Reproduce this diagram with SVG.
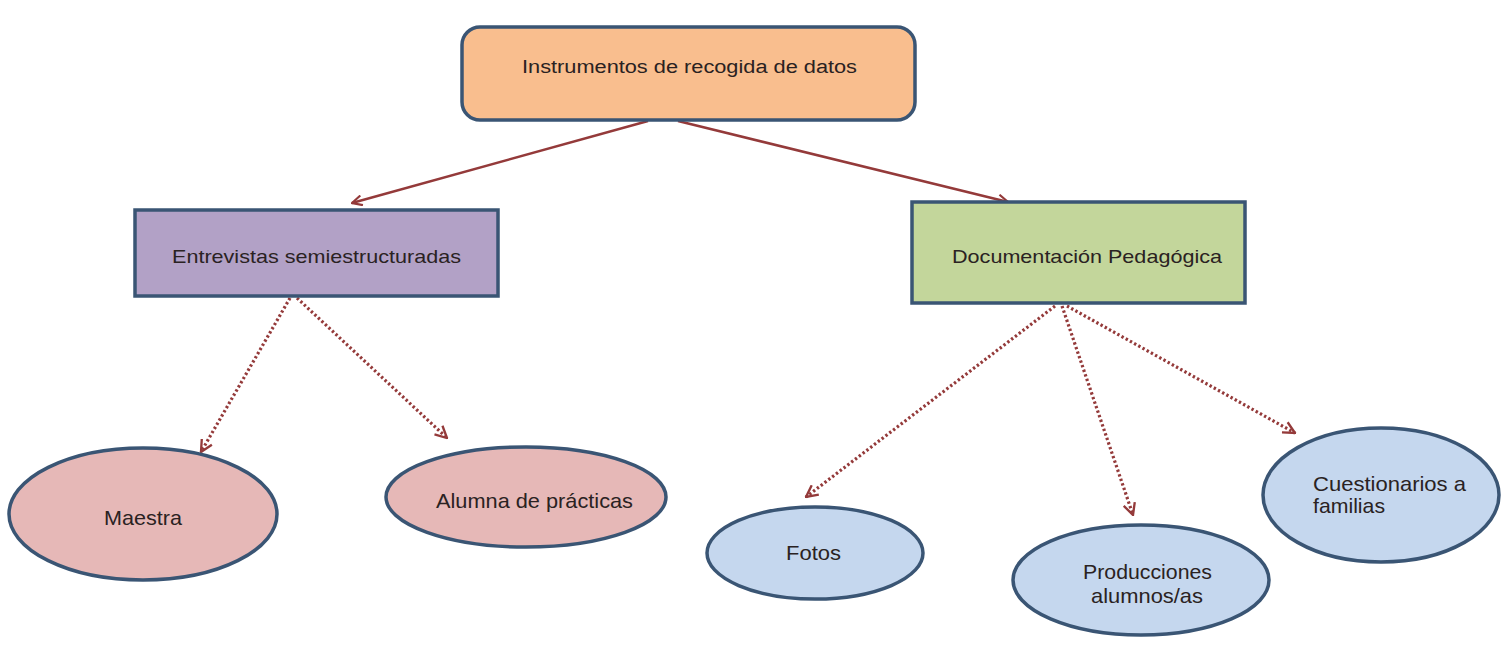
<svg xmlns="http://www.w3.org/2000/svg" width="1503" height="650" viewBox="0 0 1503 650">
<defs>
<style>
.node{stroke:#3A5574;stroke-width:3.5}
.t{font-family:"Liberation Sans",Arial,sans-serif;font-size:19px;fill:#2a2222}
.s{font-family:"Liberation Sans",Arial,sans-serif;font-size:21px;fill:#2a2222}
.solid{stroke:#943A3A;stroke-width:2.5;fill:none}
.dot{stroke:#943A3A;stroke-width:3.2;stroke-dasharray:2.4 2.4;fill:none}
</style>
<marker id="ah" viewBox="0 0 12 12" refX="11" refY="6" markerWidth="12" markerHeight="12" markerUnits="userSpaceOnUse" orient="auto">
<path d="M1,1 L11,6 L1,11" fill="none" stroke="#943A3A" stroke-width="2.2"/>
</marker>
<marker id="ah2" viewBox="0 0 12 12" refX="11" refY="6" markerWidth="14" markerHeight="14" markerUnits="userSpaceOnUse" orient="auto">
<path d="M1,1 L11,6 L1,11" fill="none" stroke="#943A3A" stroke-width="2"/>
</marker>
</defs>
<rect width="1503" height="650" fill="#ffffff"/>
<g id="connectors">
<line class="solid" x1="648" y1="121" x2="352" y2="203" marker-end="url(#ah)"/>
<line class="solid" x1="678" y1="121" x2="1008" y2="202" marker-end="url(#ah)"/>
<line class="dot" x1="290" y1="298" x2="201" y2="452" marker-end="url(#ah2)"/>
<line class="dot" x1="297" y1="298" x2="447" y2="438" marker-end="url(#ah2)"/>
<line class="dot" x1="1055" y1="306" x2="806" y2="497" marker-end="url(#ah2)"/>
<line class="dot" x1="1062" y1="306" x2="1133" y2="515" marker-end="url(#ah2)"/>
<line class="dot" x1="1067" y1="306" x2="1295" y2="433" marker-end="url(#ah2)"/>
</g>
<g id="instrumentos">
<rect class="node" x="462" y="27" width="453" height="93" rx="18" fill="#F9BE8E"/>
<text class="t" x="522" y="73" style="font-size:18px" textLength="335" lengthAdjust="spacingAndGlyphs">Instrumentos de recogida de datos</text>
</g>
<g id="entrevistas">
<rect class="node" x="135" y="210" width="363" height="86" fill="#B2A1C6" stroke="#2F4E68"/>
<text class="t" x="172" y="263" textLength="289" lengthAdjust="spacingAndGlyphs">Entrevistas semiestructuradas</text>
</g>
<g id="documentacion">
<rect class="node" x="912" y="202" width="333" height="101" fill="#C3D69B"/>
<text class="t" x="952" y="263" textLength="270" lengthAdjust="spacingAndGlyphs">Documentación Pedagógica</text>
</g>
<g id="maestra">
<ellipse class="node" cx="143" cy="514" rx="134" ry="66" fill="#E6B8B7"/>
<text class="s" x="104" y="525" textLength="78" lengthAdjust="spacingAndGlyphs">Maestra</text>
</g>
<g id="alumna">
<ellipse class="node" cx="526" cy="497" rx="140" ry="50" fill="#E6B8B7"/>
<text class="s" x="436" y="508" textLength="197" lengthAdjust="spacingAndGlyphs">Alumna de prácticas</text>
</g>
<g id="fotos">
<ellipse class="node" cx="815" cy="553" rx="108" ry="46" fill="#C5D7EE"/>
<text class="s" x="786" y="560" textLength="55" lengthAdjust="spacingAndGlyphs">Fotos</text>
</g>
<g id="producciones">
<ellipse class="node" cx="1141" cy="580" rx="128" ry="55" fill="#C5D7EE"/>
<text class="s" x="1083" y="579" textLength="129" lengthAdjust="spacingAndGlyphs">Producciones</text>
<text class="s" x="1091" y="603" textLength="112" lengthAdjust="spacingAndGlyphs">alumnos/as</text>
</g>
<g id="cuestionarios">
<ellipse class="node" cx="1381" cy="495" rx="118" ry="67" fill="#C5D7EE"/>
<text class="s" x="1313" y="491" textLength="153" lengthAdjust="spacingAndGlyphs">Cuestionarios  a</text>
<text class="s" x="1313" y="513" textLength="72" lengthAdjust="spacingAndGlyphs">familias</text>
</g>
</svg>
